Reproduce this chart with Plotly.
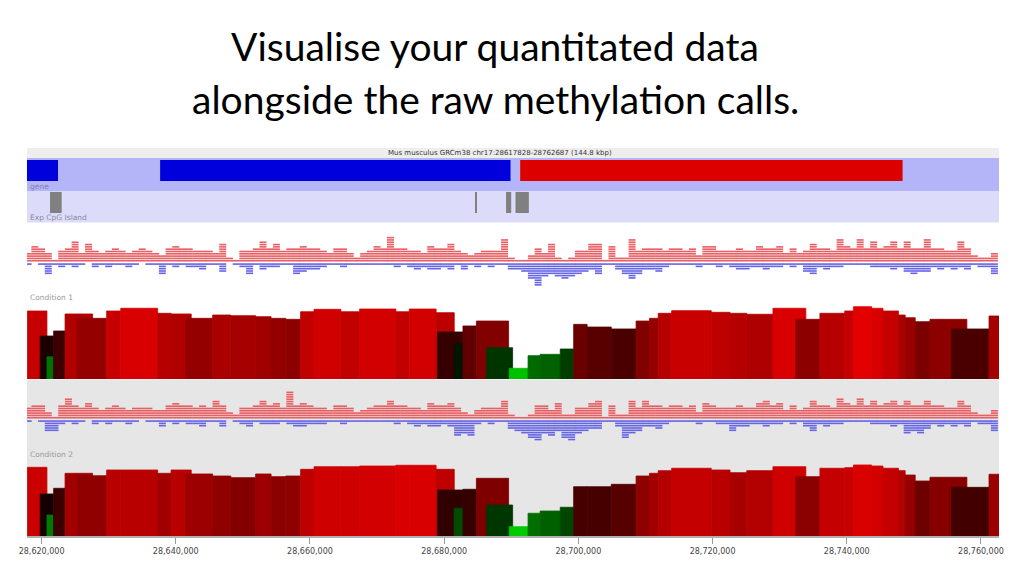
import plotly.graph_objects as go

W, H = 1024, 576
VIEW_START, VIEW_END = 28617828, 28762687

TITLE_LINES = ["Visualise your quantitated data", "alongside the raw methylation calls."]
HEADER_TEXT = "Mus musculus GRCm38 chr17:28617828-28762687 (144.8 kbp)"
TRACK_LABELS = ["gene", "Exp CpG Island", "Condition 1", "Condition 2"]

# genes (bp) and strand
GENE_START = [28600000, 28637670, 28691330]
GENE_END = [28622450, 28689890, 28748320]
GENE_STRAND = ["-", "-", "+"]

# CpG islands (bp)
CPG_START = [28621260, 28684620, 28689220, 28690630]
CPG_END = [28623000, 28684860, 28689990, 28692620]

# quantitated probes (bp) and % methylation
PROBE_START = [28617900, 28619800, 28620800, 28621800, 28623500, 28625300, 28629700, 28631800,
               28637300, 28639300, 28641500, 28645500, 28648200, 28651900, 28654200, 28656400,
               28658600, 28660600, 28664600, 28667400, 28672800, 28674800, 28678800, 28679000,
               28681500, 28682800, 28684800, 28686300, 28689700, 28692500, 28694300, 28697300,
               28699300, 28701300, 28704900, 28708600, 28710600, 28711900, 28713900, 28719800,
               28722600, 28725100, 28729000, 28732400, 28736000, 28739700, 28741000, 28743700,
               28745400, 28747700, 28748700, 28750200, 28752400, 28755600, 28761200]
PROBE_END = [28620800, 28621800, 28621700, 28623500, 28627600, 28629700, 28631800, 28637300,
             28639300, 28642300, 28645500, 28648200, 28651900, 28654200, 28656400, 28658600,
             28660600, 28664600, 28667400, 28672800, 28674800, 28678800, 28681500, 28682800,
             28682800, 28684800, 28689600, 28690200, 28692500, 28694300, 28697300, 28699300,
             28701300, 28704900, 28708600, 28710600, 28711900, 28713900, 28719800, 28722600,
             28725100, 28729000, 28733900, 28736000, 28739700, 28741000, 28743700, 28745400,
             28747700, 28748700, 28750200, 28752400, 28757900, 28761200, 28762700]
COND1_METH = [90.7, 57.3, 29.7, 64.0, 86.7, 80.9, 90.7, 94.3, 87.6, 86.7, 80.9, 85.3, 84.4,
              83.1, 80.9, 79.6, 89.7, 92.9, 89.7, 93.3, 89.7, 93.3, 88.4, 62.7, 47.6, 70.7,
              77.3, 41.7, 14.3, 31.1, 32.9, 40.0, 72.9, 69.3, 66.7, 77.3, 80.9, 87.6, 91.1,
              88.9, 87.6, 86.3, 94.3, 79.6, 87.6, 90.7, 96.4, 94.3, 90.7, 85.3, 81.7, 76.4,
              79.6, 66.7, 84.0]
COND2_METH = [91.6, 56.0, 28.0, 63.6, 83.6, 80.4, 88.0, 88.0, 83.6, 88.0, 82.7, 80.0, 77.8,
              82.7, 79.1, 80.0, 88.9, 92.4, 92.4, 93.3, 94.3, 94.3, 88.9, 61.3, 36.9, 62.3,
              76.9, 41.3, 12.4, 30.3, 33.3, 38.3, 65.7, 65.7, 68.9, 80.0, 83.6, 87.1, 90.3,
              88.0, 84.4, 87.1, 92.4, 79.1, 90.3, 91.1, 94.7, 93.3, 90.3, 87.1, 81.3, 73.3,
              78.3, 64.9, 82.3]

# raw methylation calls, counted in 1 kb bins
RAW_BIN_START = 28618000
RAW_BIN_SIZE = 1000
COND1_METH_CALLS = [4, 7, 6, 4, 1, 5, 6, 9, 4, 8, 5, 4, 5, 6, 5, 4, 5, 6, 5, 4,
                    3, 6, 7, 6, 6, 5, 5, 5, 4, 8, 2, 1, 5, 5, 6, 9, 6, 8, 5, 6,
                    6, 7, 6, 6, 5, 4, 6, 6, 4, 2, 4, 5, 7, 6, 11, 6, 6, 5, 5, 4,
                    7, 6, 6, 8, 5, 4, 3, 4, 5, 5, 5, 10, 2, 1, 1, 3, 6, 4, 8, 2,
                    1, 2, 5, 5, 8, 8, 1, 7, 2, 2, 10, 5, 6, 6, 6, 5, 6, 6, 5, 6,
                    3, 7, 7, 5, 5, 5, 6, 5, 5, 7, 6, 6, 7, 4, 6, 4, 5, 8, 6, 6,
                    5, 10, 7, 6, 10, 6, 9, 6, 7, 9, 6, 9, 6, 6, 10, 6, 6, 5, 5, 9,
                    6, 3, 2, 2, 4]
COND1_UNMETH_CALLS = [1, 0, 1, 5, 1, 2, 1, 2, 1, 0, 2, 1, 2, 1, 1, 2, 1, 0, 1, 1,
                      5, 1, 2, 1, 2, 2, 3, 1, 1, 4, 0, 1, 2, 5, 1, 3, 2, 2, 1, 1,
                      5, 4, 3, 3, 2, 1, 1, 2, 1, 1, 1, 1, 1, 1, 1, 2, 1, 2, 3, 2,
                      3, 3, 2, 3, 1, 3, 1, 2, 1, 2, 1, 1, 3, 3, 4, 7, 10, 6, 5, 6,
                      7, 6, 5, 4, 3, 5, 1, 1, 3, 5, 7, 5, 3, 3, 4, 2, 1, 1, 1, 1,
                      2, 1, 1, 2, 1, 2, 3, 3, 2, 2, 3, 2, 2, 1, 2, 1, 4, 5, 2, 3,
                      2, 2, 1, 1, 1, 1, 2, 2, 2, 3, 2, 4, 5, 4, 4, 2, 3, 2, 3, 2,
                      3, 1, 2, 2, 5]
COND2_METH_CALLS = [5, 6, 6, 3, 1, 6, 9, 6, 5, 7, 5, 4, 5, 6, 5, 4, 5, 5, 5, 4,
                    4, 6, 7, 6, 6, 5, 6, 5, 8, 6, 3, 2, 5, 5, 6, 8, 6, 7, 5, 12,
                    6, 7, 6, 5, 5, 4, 6, 6, 5, 3, 4, 5, 6, 6, 8, 6, 6, 5, 5, 4,
                    7, 6, 6, 7, 5, 3, 2, 4, 5, 5, 5, 8, 2, 1, 1, 2, 6, 6, 4, 7,
                    2, 2, 5, 5, 7, 8, 1, 6, 2, 2, 8, 5, 8, 6, 6, 5, 6, 6, 5, 6,
                    3, 7, 6, 5, 5, 5, 6, 5, 5, 7, 8, 6, 7, 4, 6, 4, 5, 8, 6, 6,
                    5, 9, 7, 6, 9, 6, 8, 6, 7, 8, 6, 8, 6, 6, 8, 6, 6, 5, 5, 8,
                    6, 3, 2, 2, 4]
COND2_UNMETH_CALLS = [1, 0, 1, 5, 5, 2, 1, 2, 1, 0, 2, 1, 2, 1, 1, 2, 1, 0, 1, 1,
                      3, 1, 2, 1, 2, 2, 3, 1, 1, 3, 0, 1, 2, 3, 1, 2, 2, 2, 1, 2,
                      3, 3, 2, 2, 2, 1, 1, 2, 1, 1, 1, 1, 1, 1, 1, 2, 1, 2, 3, 2,
                      3, 3, 2, 3, 7, 6, 7, 2, 1, 2, 1, 1, 4, 5, 6, 8, 9, 6, 7, 5,
                      8, 9, 6, 5, 4, 4, 1, 1, 3, 8, 6, 5, 3, 3, 4, 2, 1, 1, 1, 1,
                      2, 1, 1, 2, 2, 5, 3, 3, 2, 2, 3, 2, 2, 1, 2, 1, 3, 5, 2, 3,
                      2, 2, 1, 1, 1, 1, 2, 2, 2, 3, 2, 6, 5, 6, 4, 2, 3, 2, 3, 2,
                      3, 1, 2, 2, 5]

TICK_VALS = [28620000, 28640000, 28660000, 28680000, 28700000, 28720000, 28740000, 28760000]

# ---------------------------------------------------------------- layout helpers
X0, X1 = 27, 999


def py(ypx):
    return 1 - ypx / H


def dom(top, bottom):
    return [py(bottom), py(top)]


RED_DOT = "#e85e62"
BLUE_DOT = "#6464e6"
STRAND_COL = {"+": "#dd0000", "-": "#0000dd"}

fig = go.Figure()

# genes
fig.add_trace(go.Bar(
    x=[(s + e) / 2 for s, e in zip(GENE_START, GENE_END)],
    width=[e - s for s, e in zip(GENE_START, GENE_END)],
    y=[0.64] * len(GENE_START), base=0.3,
    marker=dict(color=[STRAND_COL[s] for s in GENE_STRAND], line_width=0),
    yaxis="y", hoverinfo="skip"))

# CpG islands
fig.add_trace(go.Bar(
    x=[(s + e) / 2 for s, e in zip(CPG_START, CPG_END)],
    width=[e - s for s, e in zip(CPG_START, CPG_END)],
    y=[0.68] * len(CPG_START), base=0.29,
    marker=dict(color="#808080", line_width=0),
    yaxis="y2", hoverinfo="skip"))


def raw_trace(counts, color, sign, yaxis):
    xs, ys = [], []
    for i, n in enumerate(counts):
        pos = RAW_BIN_START + i * RAW_BIN_SIZE
        for k in range(n):
            xs.append(pos)
            ys.append(sign * (k + 0.55) - (0.35 if sign < 0 else 0))
    return go.Scatter(x=xs, y=ys, mode="markers", yaxis=yaxis, hoverinfo="skip",
                      marker=dict(symbol="line-ew", size=5,
                                  line=dict(color=color, width=1.6)))


fig.add_trace(raw_trace(COND1_METH_CALLS, RED_DOT, 1, "y3"))
fig.add_trace(raw_trace(COND1_UNMETH_CALLS, BLUE_DOT, -1, "y3"))
fig.add_trace(raw_trace(COND2_METH_CALLS, RED_DOT, 1, "y5"))
fig.add_trace(raw_trace(COND2_UNMETH_CALLS, BLUE_DOT, -1, "y5"))

SCALE = [[0, "#00e600"], [0.5, "#000000"], [1, "#e60000"]]
for vals, ax in [(COND1_METH, "y4"), (COND2_METH, "y6")]:
    fig.add_trace(go.Bar(
        x=[(s + e) / 2 for s, e in zip(PROBE_START, PROBE_END)],
        width=[e - s for s, e in zip(PROBE_START, PROBE_END)],
        y=vals, base=0,
        marker=dict(color=vals, colorscale=SCALE, cmin=7, cmax=97,
                    line=dict(color=vals, colorscale=SCALE, cmin=7, cmax=97, width=0.8)),
        yaxis=ax, hoverinfo="skip"))

hidden = dict(visible=False, fixedrange=True, anchor="x")
layout_axes = dict(
    yaxis=dict(domain=dom(158, 191), range=[0, 1], **hidden),
    yaxis2=dict(domain=dom(191, 222), range=[0, 1], **hidden),
    yaxis3=dict(domain=dom(232, 292), range=[-13, 13], **hidden),
    yaxis4=dict(domain=dom(304, 379), range=[0, 100], **hidden),
    yaxis5=dict(domain=dom(389, 449), range=[-13, 13], **hidden),
    yaxis6=dict(domain=dom(461, 536), range=[0, 100], **hidden),
)

shapes = []


def band(top, bottom, color):
    shapes.append(dict(type="rect", xref="paper", yref="paper", x0=X0 / W, x1=X1 / W,
                       y0=py(bottom), y1=py(top), fillcolor=color, line_width=0,
                       layer="below"))


band(148, 158, "#eeeeee")
band(158, 191, "#b4b4f8")
band(191, 222.5, "#dcdcfa")
band(379.5, 537, "#e6e6e6")

annotations = [
    dict(text=TITLE_LINES[0], x=495 / W, y=py(46), xref="paper", yref="paper",
         showarrow=False, xanchor="center", yanchor="middle",
         font=dict(family="Lato", size=39, color="#000000")),
    dict(text=TITLE_LINES[1], x=495 / W, y=py(99), xref="paper", yref="paper",
         showarrow=False, xanchor="center", yanchor="middle",
         font=dict(family="Lato", size=39, color="#000000")),
    dict(text=HEADER_TEXT, x=500 / W, y=py(153), xref="paper", yref="paper",
         showarrow=False, xanchor="center", yanchor="middle",
         font=dict(family="DejaVu Sans", size=7, color="#333333")),
]
for lab, ypx, col in zip(TRACK_LABELS, [186.5, 217.5, 297.5, 454], ["#8080b0", "#8a8a9a", "#9a9a9a", "#9a9a9a"]):
    annotations.append(dict(text=lab, x=28 / W, y=py(ypx), xref="paper", yref="paper",
                            showarrow=False, xanchor="left", yanchor="middle",
                            font=dict(family="DejaVu Sans", size=7.5, color=col)))

fig.update_layout(
    width=W, height=H, margin=dict(l=0, r=0, t=0, b=0),
    paper_bgcolor="#ffffff", plot_bgcolor="rgba(0,0,0,0)",
    showlegend=False, barmode="overlay",
    xaxis=dict(domain=[X0 / W, X1 / W], range=[VIEW_START, VIEW_END], anchor="y6",
               tickvals=TICK_VALS, tickformat=",d", ticks="outside", ticklen=6,
               tickcolor="#9a9a9a", tickwidth=1, showline=True, linecolor="#b0b0b0",
               linewidth=2, showgrid=False, zeroline=False, fixedrange=True,
               automargin=False,
               tickfont=dict(family="DejaVu Sans", size=8, color="#444444")),
    shapes=shapes, annotations=annotations,
    **layout_axes,
)

fig.write_html("out.html", config={"responsive": False, "displayModeBar": False},
               post_script="document.body.style.margin='0';document.body.style.overflow='hidden';")
